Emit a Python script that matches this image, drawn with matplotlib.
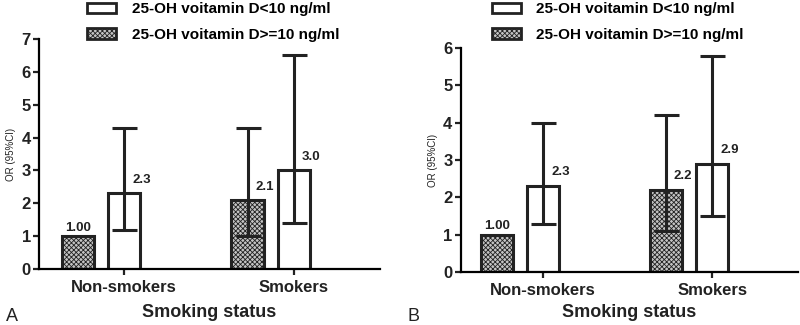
import matplotlib.pyplot as plt
from matplotlib.patches import Patch

plt.rcParams['font.family'] = ['Liberation Sans', 'DejaVu Sans']
plt.rcParams['hatch.color'] = '#444444'
plt.rcParams['hatch.linewidth'] = 0.6

groups = ['Non-smokers', 'Smokers']
legend_labels = ['25-OH voitamin D<10 ng/ml', '25-OH voitamin D>=10 ng/ml']

# panel A
a_high = [1.00, 2.1]        # D>=10 (checkered)
a_high_lo = [None, 1.0]
a_high_hi = [None, 4.3]
a_low = [2.3, 3.0]          # D<10 (white)
a_low_lo = [1.2, 1.4]
a_low_hi = [4.3, 6.5]
a_high_txt = ['1.00', '2.1']
a_low_txt = ['2.3', '3.0']

# panel B
b_high = [1.00, 2.2]
b_high_lo = [None, 1.1]
b_high_hi = [None, 4.2]
b_low = [2.3, 2.9]
b_low_lo = [1.3, 1.5]
b_low_hi = [4.0, 5.8]
b_high_txt = ['1.00', '2.2']
b_low_txt = ['2.3', '2.9']

W = 0.19
OFF = 0.136
LW = 2.2
INK = '#222222'


def panel(ax, high, hlo, hhi, low, llo, lhi, htxt, ltxt, ymax, xlim, xpad):
    xs = [0, 1]
    for i, x in enumerate(xs):
        xg = x - OFF
        xw = x + OFF
        ax.bar(xg, high[i], W, facecolor='#c4c4c4', edgecolor=INK,
               hatch='xxxxxxx', linewidth=LW, zorder=2)
        ax.bar(xw, low[i], W, facecolor='white', edgecolor=INK,
               linewidth=LW, zorder=2)
        if hlo[i] is not None:
            ax.errorbar(xg, high[i], yerr=[[high[i] - hlo[i]], [hhi[i] - high[i]]],
                        fmt='none', ecolor=INK, elinewidth=LW, capsize=9,
                        capthick=LW, zorder=3)
            ax.text(xg + 0.045, high[i] + 0.22, htxt[i], ha='left', va='bottom',
                    fontsize=9.5, fontweight='bold', color=INK)
        else:
            ax.text(xg, high[i] + 0.08, htxt[i], ha='center', va='bottom',
                    fontsize=9.5, fontweight='bold', color=INK)
        ax.errorbar(xw, low[i], yerr=[[low[i] - llo[i]], [lhi[i] - low[i]]],
                    fmt='none', ecolor=INK, elinewidth=LW, capsize=9,
                    capthick=LW, zorder=3)
        ax.text(xw + 0.05, low[i] + 0.22, ltxt[i], ha='left', va='bottom',
                fontsize=9.5, fontweight='bold', color=INK)
    ax.set_xlim(*xlim)
    ax.set_ylim(0, ymax)
    ax.set_yticks(range(0, ymax + 1))
    ax.set_xticks([x + OFF for x in xs])
    ax.set_xticklabels(groups)
    ax.spines['top'].set_visible(False)
    ax.spines['right'].set_visible(False)
    ax.spines['left'].set_linewidth(1.6)
    ax.spines['bottom'].set_linewidth(1.6)
    ax.tick_params(width=1.6, length=4, labelsize=12, colors=INK, pad=2)
    ax.tick_params(axis='x', pad=4)
    for lab in ax.get_xticklabels() + ax.get_yticklabels():
        lab.set_fontweight('bold')
    ax.set_ylabel('OR (95%CI)', fontsize=7, color=INK, labelpad=4)
    ax.set_xlabel('Smoking status', fontsize=13, fontweight='bold', labelpad=xpad,
                  color=INK)


fig = plt.figure(figsize=(8, 3.25), dpi=100)
axA = fig.add_axes([0.049, 0.172, 0.426, 0.708])
axB = fig.add_axes([0.576, 0.163, 0.421, 0.689])

panel(axA, a_high, a_high_lo, a_high_hi, a_low, a_low_lo, a_low_hi,
      a_high_txt, a_low_txt, 7, (-0.366, 1.646), 6.5)
panel(axB, b_high, b_high_lo, b_high_hi, b_low, b_low_lo, b_low_hi,
      b_high_txt, b_low_txt, 6, (-0.352, 1.642), 4.5)

handles = [Patch(facecolor='white', edgecolor=INK, linewidth=2),
           Patch(facecolor='#c4c4c4', edgecolor=INK, hatch='xxxxxxx', linewidth=2)]
for xpos in [0.092, 0.598]:
    fig.legend(handles, legend_labels, loc='upper left', bbox_to_anchor=(xpos, 1.035),
               frameon=False, handlelength=1.9, handleheight=0.7, handletextpad=1.0,
               labelspacing=0.75, prop={'weight': 'bold', 'size': 11})

fig.text(0.008, 0.012, 'A', fontsize=13, color=INK)
fig.text(0.509, 0.012, 'B', fontsize=13, color=INK)

fig.savefig('out.png', dpi=100)
